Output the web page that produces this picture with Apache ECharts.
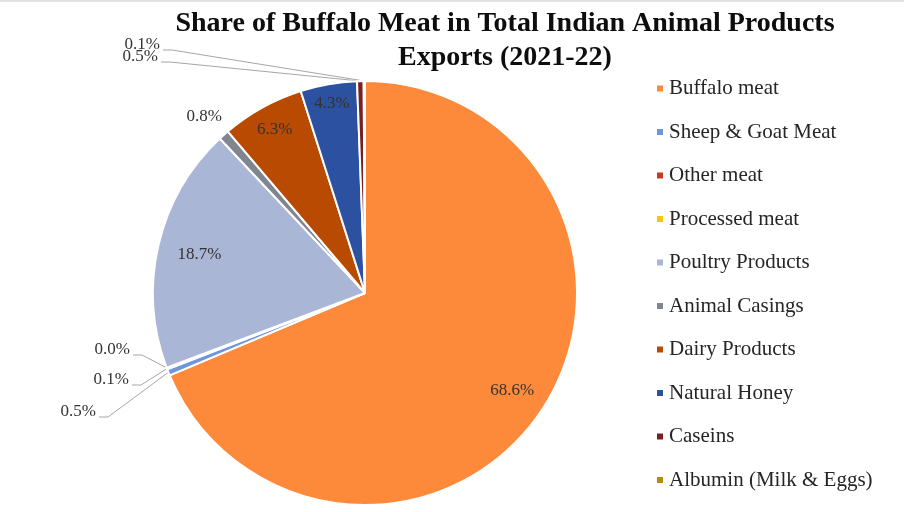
<!DOCTYPE html>
<html>
<head>
<meta charset="utf-8">
<script src="https://cdn.jsdelivr.net/npm/echarts@6/dist/echarts.min.js"></script>
<style>
  body { margin: 0; background: #fff; }
  #chart { width: 904px; height: 512px; box-sizing: border-box; border-top: 2px solid #e2e2e2; }
</style>
</head>
<body>
<div id="chart"></div>
<script>
// share of each product in exports (%)
var products = ["Buffalo meat", "Sheep & Goat Meat", "Other meat", "Processed meat", "Poultry Products",
  "Animal Casings", "Dairy Products", "Natural Honey", "Caseins", "Albumin (Milk & Eggs)"];
var shares = [68.6, 0.5, 0.1, 0.03, 18.7, 0.8, 6.3, 4.3, 0.5, 0.1];
var colors = ["#fd8a3b", "#6d96dc", "#c23b22", "#f7c21c", "#aab6d6", "#80868f", "#b94a02", "#2c51a0", "#7a1f1f", "#b08d12"];

var chart = echarts.init(document.getElementById("chart"));
var cx = 365, cy = 291;

// where the inside labels sit, as a fraction of the radius
var insideAt = { 0: 0.81, 4: 0.78, 6: 0.855, 7: 0.88 };
// outside labels: right end of the text, relative to the pie centre
var outsideAt = { 1: [-269, 119], 2: [-236, 87], 3: [-235, 57], 5: [-143, -176], 8: [-207, -236], 9: [-205, -248] };
var font = "'Liberation Serif', 'Times New Roman', serif";

function labelFor(i) {
  if (insideAt[i]) {
    return { label: { position: "inside" }, labelLine: { show: false } };
  }
  return { label: { position: "outside" }, labelLine: { show: i != 5, length: 10, length2: 10 } };
}

var option = {
  color: colors,
  title: {
    text: "Share of Buffalo Meat in Total Indian Animal Products\nExports (2021-22)",
    left: 500,
    top: 0,
    textAlign: "center",
    textStyle: { fontFamily: font, fontWeight: "bold", fontSize: 28, lineHeight: 34, color: "#0d0d0d" }
  },
  legend: {
    orient: "vertical",
    left: 650,
    top: 71,
    icon: "rect",
    itemWidth: 8,
    itemHeight: 8,
    itemGap: 22.5,
    data: products,
    textStyle: { fontFamily: font, fontSize: 21, lineHeight: 21, color: "#262626" }
  },
  series: [
    {
      type: "pie",
      center: [cx, cy],
      radius: 212,
      startAngle: 90,
      clockwise: true,
      avoidLabelOverlap: false,
      itemStyle: { borderColor: "#fff", borderWidth: 2 },
      label: {
        fontFamily: font,
        fontSize: 17,
        color: "#333",
        formatter: function (p) { return p.value.toFixed(1) + "%"; }
      },
      labelLine: { lineStyle: { color: "#a6a6a6", width: 1 } },
      labelLayout: function (p) {
        var r = p.labelRect;
        var f = insideAt[p.dataIndex];
        if (f) {
          var lx = r.x + r.width / 2, ly = r.y + r.height / 2;
          var s = f / 0.5;
          return { x: cx + (lx - cx) * s, y: cy + (ly - cy) * s, align: "center", verticalAlign: "middle" };
        }
        var o = outsideAt[p.dataIndex];
        if (o) {
          var ax = cx + o[0], ay = cy + o[1];
          var out = { x: ax, y: ay, align: "right", verticalAlign: "middle" };
          if (p.labelLinePoints) {
            out.labelLinePoints = [p.labelLinePoints[0], [ax + 12, ay + 5], [ax + 3, ay + 5]];
          }
          return out;
        }
        return {};
      },
      emphasis: { disabled: true },
      data: products.map(function (name, i) {
        var item = { name: name, value: shares[i] };
        var l = labelFor(i);
        item.label = l.label;
        item.labelLine = l.labelLine;
        return item;
      })
    }
  ]
};

chart.setOption(option);
</script>
</body>
</html>
